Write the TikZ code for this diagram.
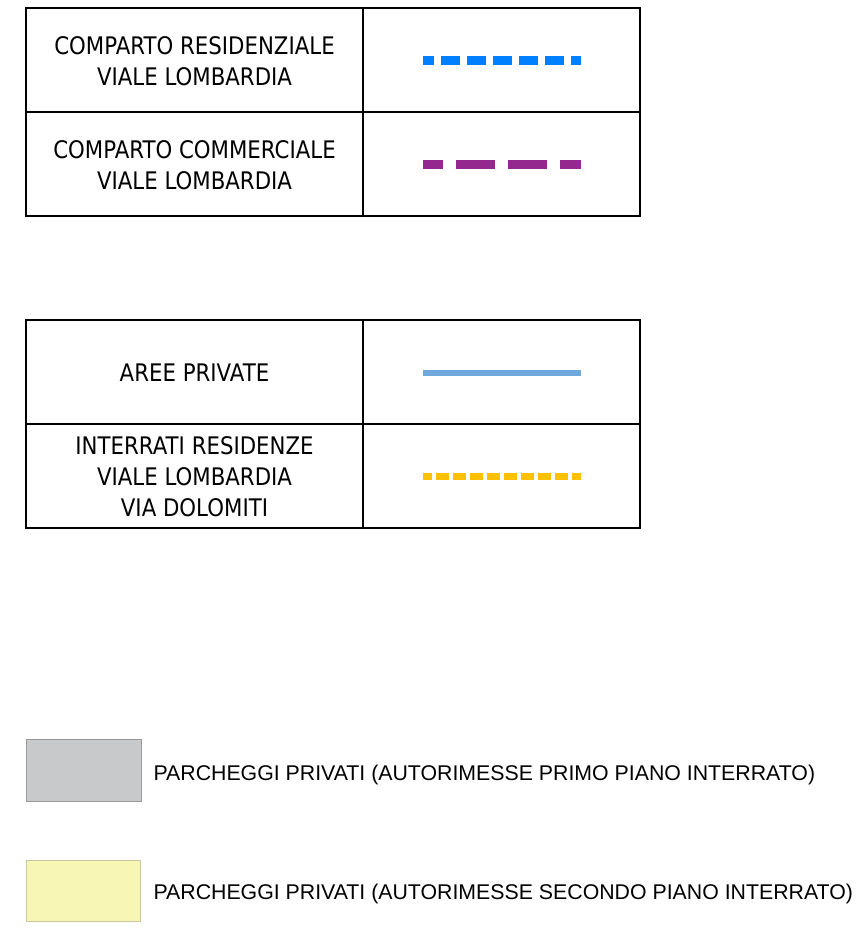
\documentclass[tikz,border=0pt]{standalone}
\usepackage{fontspec}
\setmainfont{Liberation Sans}
\newfontfamily\cadfont[FakeStretch=0.88]{DejaVu Sans}
\definecolor{resblue}{RGB}{0,128,255}
\definecolor{compurple}{RGB}{149,40,142}
\definecolor{privblue}{RGB}{111,168,220}
\definecolor{intorange}{RGB}{255,192,0}
\definecolor{parkgrey}{RGB}{200,201,203}
\definecolor{parkyellow}{RGB}{248,246,180}
\newcommand{\legendrow}[4] % top y in px, node name, label, line style
{
	% cell borders
	\draw[cell] (26,#1) rectangle (640,#1+104);
	\draw[divider] (363,#1) -- (363,#1+104);
	% label
	\node[celltext] (#2) at (194.5,#1+53) {#3};
	% sample line
	\draw[#4] (423,#1+52.5) -- (581,#1+52.5);
}

\begin{document}
\begin{tikzpicture}[x=1pt, y=-1pt,
	cell/.style={line width=1.5pt},
	divider/.style={line width=2.5pt},
	celltext/.style={align=center, font=\cadfont\fontsize{24.2}{31}\selectfont},
	parktext/.style={anchor=west, font=\fontsize{21.3}{26}\selectfont},
	residenziale/.style={resblue, line width=9pt, dash pattern=on 19pt off 7pt, dash phase=8pt},
	commerciale/.style={compurple, line width=9pt, dash pattern=on 39pt off 13pt, dash phase=19pt},
	private/.style={privblue, line width=6pt},
	interrati/.style={intorange, line width=7pt, dash pattern=on 13pt off 4pt, dash phase=4pt}]
	% 857px x 931px
	\useasboundingbox (0,0) rectangle (857,931);
	
	\legendrow{8}{residenziale}{COMPARTO RESIDENZIALE\\VIALE LOMBARDIA}{residenziale};
	\legendrow{112}{commerciale}{COMPARTO COMMERCIALE\\VIALE LOMBARDIA}{commerciale};
	
	\legendrow{320}{private}{AREE PRIVATE}{private};
	\legendrow{424}{interrati}{INTERRATI RESIDENZE\\VIALE LOMBARDIA\\VIA DOLOMITI}{interrati};
	
	% parking areas
	\draw[fill=parkgrey, draw=gray!80] (26,739) rectangle (141,801);
	\node[parktext] (primo) at (150,775) {PARCHEGGI PRIVATI (AUTORIMESSE PRIMO PIANO INTERRATO)};
	\draw[fill=parkyellow, draw=parkyellow!60!gray] (26,860) rectangle (140,921);
	\node[parktext] (secondo) at (150,894) {PARCHEGGI PRIVATI (AUTORIMESSE SECONDO PIANO INTERRATO)};
\end{tikzpicture}
\end{document}
